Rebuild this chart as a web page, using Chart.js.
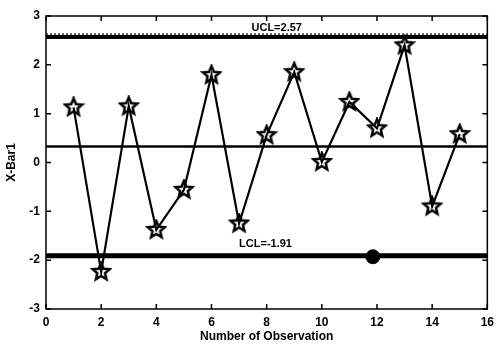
<!DOCTYPE html>
<html lang="en">
<head>
    <meta charset="UTF-8">
    <title>X-Bar Control Chart</title>
    <style>
        body { margin: 0; background: #ffffff; }
        #wrap { width: 500px; height: 344px; }
    </style>
    <script src="https://cdn.jsdelivr.net/npm/chart.js@4/dist/chart.umd.min.js"></script>
</head>
<body>
    <div id="wrap"><canvas id="chart" width="500" height="344"></canvas></div>
    <script>
        // observations and their X-bar values
        const observations = [1, 2, 3, 4, 5, 6, 7, 8, 9, 10, 11, 12, 13, 14, 15];
        const xbarValues = [1.13, -2.24, 1.15, -1.38, -0.56, 1.79, -1.25, 0.56, 1.85, 0.01, 1.24, 0.70, 2.40, -0.90, 0.58];

        const ucl = 2.57;
        const lcl = -1.91;
        const centerLine = 0.33;
        const uclDotted = 2.63;
        const lclMarker = [11.85, -1.93];

        const xTicks = [0, 2, 4, 6, 8, 10, 12, 14, 16];
        const yTicks = [-3, -2, -1, 0, 1, 2, 3];

        const font = 'Liberation Sans, Arial, sans-serif';

        // five point star as an outline, used as the point style
        function makeStar(r) {
            const c = document.createElement('canvas');
            const s = Math.ceil(r * 2 + 4);
            c.width = s; c.height = s;
            const g = c.getContext('2d');
            g.beginPath();
            for (let i = 0; i < 10; i++) {
                const rad = i % 2 === 0 ? r : r * 0.45;
                const a = -Math.PI / 2 + i * Math.PI / 5;
                const px = s / 2 + rad * Math.cos(a);
                const py = s / 2 + rad * Math.sin(a);
                if (i === 0) g.moveTo(px, py); else g.lineTo(px, py);
            }
            g.closePath();
            g.lineWidth = 2.5;
            g.strokeStyle = '#000';
            g.stroke();
            return c;
        }
        const star = makeStar(9);

        // frame, inward ticks and limit labels
        const framePlugin = {
            id: 'frame',
            afterDraw(chart) {
                const ctx = chart.ctx;
                const a = chart.chartArea;
                const xs = chart.scales.x, ys = chart.scales.y;
                ctx.save();
                ctx.strokeStyle = '#000';
                ctx.lineWidth = 1.5;
                ctx.strokeRect(a.left, a.top, a.right - a.left, a.bottom - a.top);
                ctx.beginPath();
                xTicks.forEach(v => {
                    const px = xs.getPixelForValue(v);
                    ctx.moveTo(px, a.bottom); ctx.lineTo(px, a.bottom - 5);
                    ctx.moveTo(px, a.top); ctx.lineTo(px, a.top + 5);
                });
                yTicks.forEach(v => {
                    const py = ys.getPixelForValue(v);
                    ctx.moveTo(a.left, py); ctx.lineTo(a.left + 5, py);
                    ctx.moveTo(a.right, py); ctx.lineTo(a.right - 5, py);
                });
                ctx.stroke();

                ctx.fillStyle = '#000';
                ctx.font = 'bold 11px ' + font;
                ctx.textBaseline = 'bottom';
                ctx.textAlign = 'left';
                ctx.fillText('UCL=' + ucl, xs.getPixelForValue(7.45), ys.getPixelForValue(uclDotted) - 1);
                ctx.fillText('LCL=' + lcl, xs.getPixelForValue(7.0), ys.getPixelForValue(lcl) - 6);
                ctx.restore();
            }
        };

        function hline(y, width, dash) {
            return {
                type: 'line',
                data: [{ x: 0, y: y }, { x: 16, y: y }],
                borderColor: '#000',
                borderWidth: width,
                borderDash: dash || [],
                pointRadius: 0,
                fill: false
            };
        }

        new Chart(document.getElementById('chart'), {
            data: {
                datasets: [
                    hline(uclDotted, 1.2, [2, 2]),
                    hline(ucl, 4),
                    hline(centerLine, 2.5),
                    hline(lcl, 5),
                    {
                        type: 'scatter',
                        data: [{ x: lclMarker[0], y: lclMarker[1] }],
                        backgroundColor: '#000',
                        borderColor: '#000',
                        pointRadius: 7
                    },
                    {
                        type: 'line',
                        data: observations.map((o, i) => ({ x: o, y: xbarValues[i] })),
                        borderColor: '#000',
                        borderWidth: 2.2,
                        pointStyle: star,
                        pointRadius: 9,
                        tension: 0,
                        fill: false
                    }
                ]
            },
            options: {
                responsive: false,
                animation: false,
                layout: { padding: { top: 16, right: 8, left: 0, bottom: 0 } },
                plugins: { legend: { display: false }, tooltip: { enabled: false } },
                scales: {
                    x: {
                        type: 'linear',
                        min: 0, max: 16,
                        afterBuildTicks: s => { s.ticks = xTicks.map(v => ({ value: v })); },
                        afterFit: s => { s.height = 35; },
                        grid: { display: false, drawTicks: false },
                        border: { display: false },
                        ticks: { color: '#000', font: { family: font, size: 12, weight: 'bold' }, padding: 6, maxRotation: 0 },
                        title: { display: true, text: 'Number of Observation', color: '#000', font: { family: font, size: 12, weight: 'bold' }, padding: { top: 0, bottom: 0 } }
                    },
                    y: {
                        type: 'linear',
                        min: -3, max: 3,
                        afterBuildTicks: s => { s.ticks = yTicks.map(v => ({ value: v })); },
                        afterFit: s => { s.width = 46; },
                        grid: { display: false, drawTicks: false },
                        border: { display: false },
                        ticks: { color: '#000', font: { family: font, size: 12, weight: 'bold' }, padding: 6 },
                        title: { display: true, text: 'X-Bar1', color: '#000', font: { family: font, size: 12, weight: 'bold' }, padding: { top: 4, bottom: 0 } }
                    }
                }
            },
            plugins: [framePlugin]
        });
    </script>
</body>
</html>
